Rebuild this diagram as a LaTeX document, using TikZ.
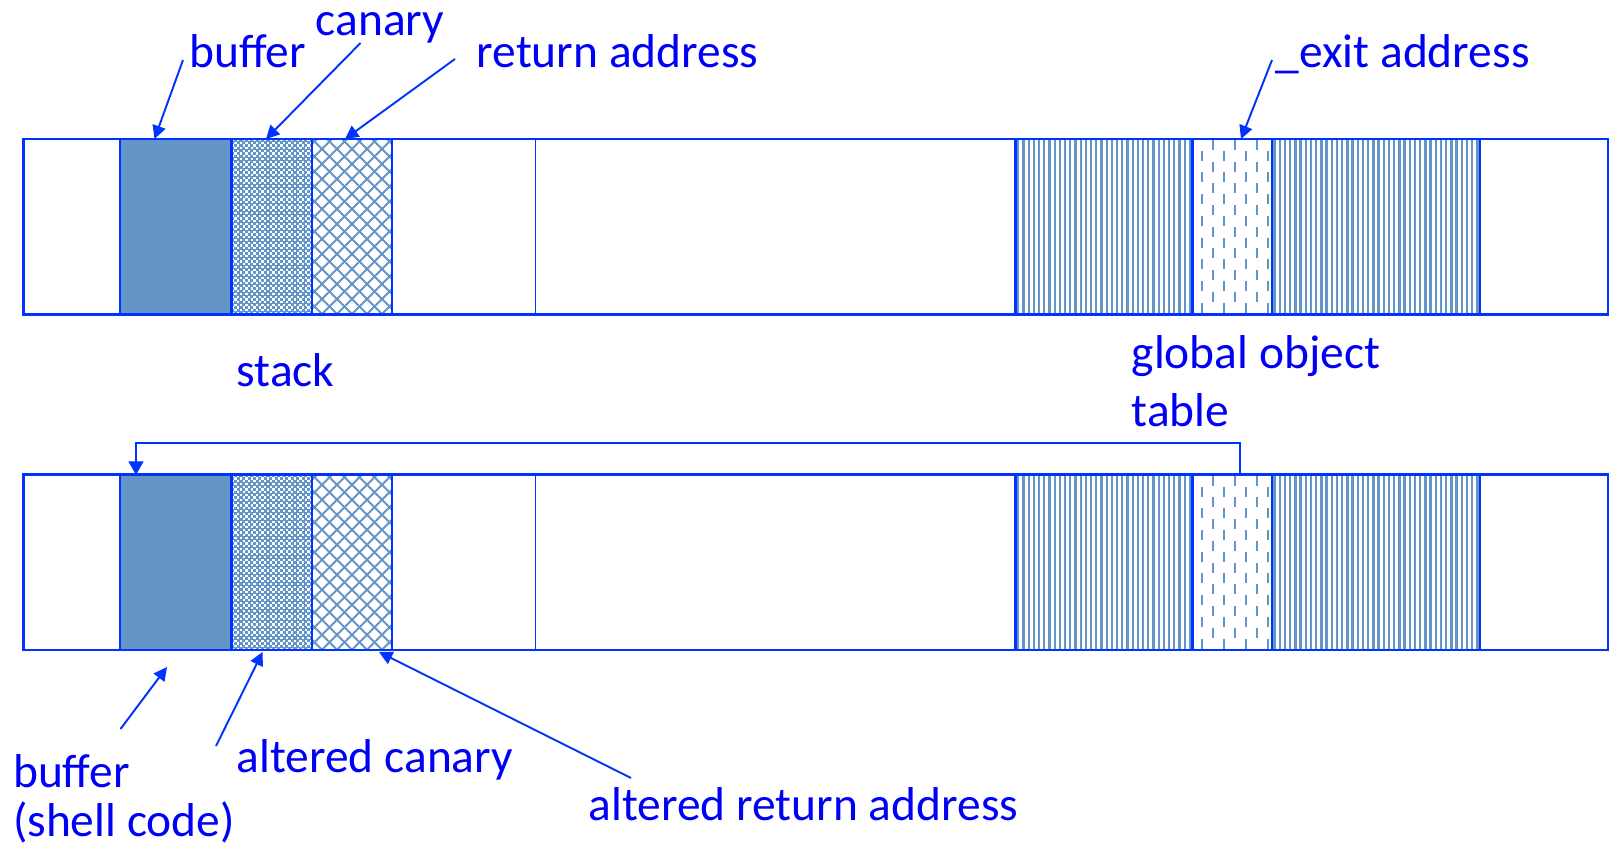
\documentclass[tikz,border=0pt]{standalone}
\usepackage{fontspec}
\setmainfont{Carlito}
\usetikzlibrary{arrows.meta}
\definecolor{lineblue}{RGB}{0,51,255}
\definecolor{textblue}{RGB}{0,0,245}
\definecolor{fillblue}{RGB}{99,149,198}
\tikzset{
  outline/.style={draw=lineblue, line width=0.75pt},
  pointer/.style={draw=lineblue, line width=0.55pt, -{Triangle[length=3.8pt,width=3.8pt]}},
  label/.style={text=textblue, inner sep=0pt, anchor=base west, font=\fontsize{13.5pt}{15.6pt}\selectfont, align=left},
}
% one memory strip whose top edge is at #1 (pixel units, y downwards)
\newcommand{\memstrip}[1]{%
  \pgfmathsetmacro\yt{#1}%
  \pgfmathsetmacro\yb{#1+175.3}%
  % buffer
  \fill[fillblue] (120,\yt) rectangle (231.7,\yb);
  % canary: fine dotted checker
  \begin{scope}
    \clip (231.7,\yt) rectangle (312,\yb);
    \fill[fillblue] (231.7,\yt) rectangle (312,\yb);
    \foreach \j in {0,...,65}{
      \pgfmathsetmacro\off{mod(\j,2)*2.7}
      \foreach \i in {0,...,15}{
        \fill[white] ({231.7+\i*5.4+\off},{\yt+\j*2.7}) rectangle ++(2.3,2.3);
      }
    }
  \end{scope}
  % return address: diagonal crosshatch
  \begin{scope}
    \clip (312,\yt) rectangle (392,\yb);
    \foreach \k in {-13,...,6}{
      \draw[fillblue, line width=0.55pt] ({312+\k*15},\yt) -- ++(200,200);
      \draw[fillblue, line width=0.55pt] ({392-\k*15},\yt) -- ++(-200,200);
    }
  \end{scope}
  % global object table: vertical stripes
  \foreach \x in {1018.3,1023.5,...,1190}{
    \draw[fillblue, line width=0.65pt] (\x,\yt) -- (\x,\yb);
  }
  \foreach \x in {1274.6,1279.8,...,1478}{
    \draw[fillblue, line width=0.65pt] (\x,\yt) -- (\x,\yb);
  }
  % _exit entry: staggered dashes
  \begin{scope}
    \clip (1192.3,\yt) rectangle (1272,\yb);
    \foreach \c in {0,...,6}{
      \pgfmathsetmacro\cx{1202.3+\c*11}
      \pgfmathsetmacro\dy{mod(\c+1,2)*10.8}
      \foreach \j in {-1,...,8}{
        \draw[fillblue, line width=0.65pt] (\cx,{\yt+1+\dy+\j*21.7}) -- ++(0,10);
      }
    }
  \end{scope}
  % outlines
  \draw[outline] (23.7,\yt) rectangle (1608,\yb);
  \foreach \x in {120,231.7,312,392,1015.7,1192.3,1272,1480}{
    \draw[outline] (\x,\yt) -- (\x,\yb);
  }
  \draw[draw=lineblue, line width=0.5pt] (535.6,\yt) -- (535.6,\yb);
}
\begin{document}
\begin{tikzpicture}[x=0.01cm, y=-0.01cm]
\useasboundingbox (0,0) rectangle (1615,855);

\memstrip{139}
\memstrip{474.8}

% labels
\node[label] (lcanary) at (315,36) {canary};
\node[label] (lbuffer) at (188.5,68) {buffer};
\node[label] (lret) at (476,68) {return address};
\node[label] (lexit) at (1275,68) {\_exit address};
\node[label] (lstack) at (236,387) {stack};
\node[label] (lgot) at (1131,427) {global object\\[0.9pt]table};
\node[label, font=\fontsize{13.5pt}{13.7pt}\selectfont] (lshell) at (12.4,836) {buffer\\(shell code)};
\node[label] (lacan) at (236,772) {altered canary};
\node[label] (laret) at (588,820) {altered return address};

% pointer ends
\coordinate (t1) at (183,60);   \coordinate (h1) at (154.5,139);
\coordinate (t2) at (360.5,43); \coordinate (h2) at (266,139);
\coordinate (t3) at (455,59);   \coordinate (h3) at (345,139);
\coordinate (t4) at (1272,60);  \coordinate (h4) at (1241,139);
\coordinate (t5) at (120.5,729); \coordinate (h5) at (167,667);
\coordinate (t6) at (216,746);  \coordinate (h6) at (262.6,652);
\coordinate (t7) at (631,778);  \coordinate (h7) at (379,652);
\coordinate (exitB) at (1240,474.8);
\coordinate (bufB) at (136,474.8);

\draw[pointer] (t1) -- (h1);
\draw[pointer] (t2) -- (h2);
\draw[pointer] (t3) -- (h3);
\draw[pointer] (t4) -- (h4);
\draw[pointer] (t5) -- (h5);
\draw[pointer] (t6) -- (h6);
\draw[pointer] (t7) -- (h7);
\draw[draw=lineblue, line width=0.6pt, -{Triangle[length=3.8pt,width=4.2pt]}] (exitB) -- ++(0,-32) -| (bufB);
\end{tikzpicture}
\end{document}
